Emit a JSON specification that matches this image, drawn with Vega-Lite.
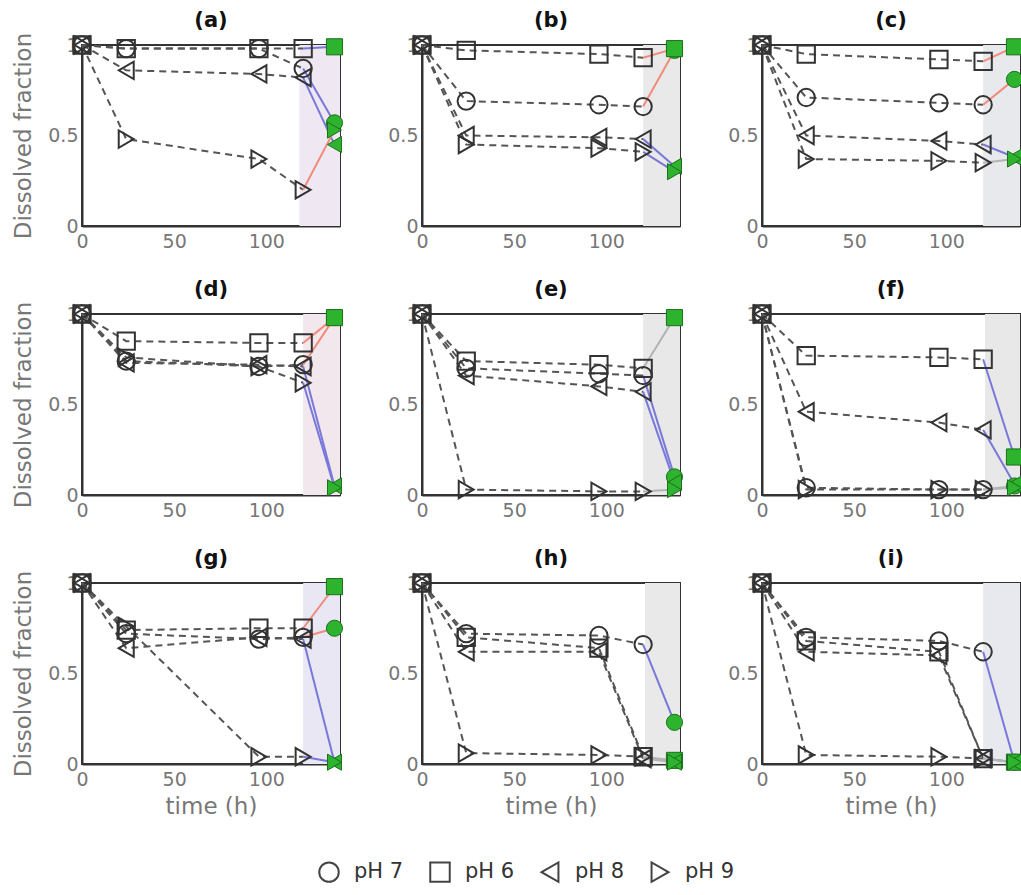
{
  "$schema": "https://vega.github.io/schema/vega-lite/v6.json",
  "background": "white",
  "padding": {"left": 11, "top": 9, "right": 0, "bottom": 0},
  "datasets": {
    "main": [
      {"p":"a","ph":"pH 7","t":0,"v":1},{"p":"a","ph":"pH 7","t":24,"v":0.98},{"p":"a","ph":"pH 7","t":96,"v":0.98},{"p":"a","ph":"pH 7","t":120,"v":0.87},
      {"p":"a","ph":"pH 6","t":0,"v":1},{"p":"a","ph":"pH 6","t":24,"v":0.98},{"p":"a","ph":"pH 6","t":96,"v":0.98},{"p":"a","ph":"pH 6","t":120,"v":0.98},
      {"p":"a","ph":"pH 8","t":0,"v":1},{"p":"a","ph":"pH 8","t":24,"v":0.86},{"p":"a","ph":"pH 8","t":96,"v":0.84},{"p":"a","ph":"pH 8","t":120,"v":0.82},
      {"p":"a","ph":"pH 9","t":0,"v":1},{"p":"a","ph":"pH 9","t":24,"v":0.48},{"p":"a","ph":"pH 9","t":96,"v":0.37},{"p":"a","ph":"pH 9","t":120,"v":0.2},

      {"p":"b","ph":"pH 7","t":0,"v":1},{"p":"b","ph":"pH 7","t":24,"v":0.69},{"p":"b","ph":"pH 7","t":96,"v":0.67},{"p":"b","ph":"pH 7","t":120,"v":0.66},
      {"p":"b","ph":"pH 6","t":0,"v":1},{"p":"b","ph":"pH 6","t":24,"v":0.97},{"p":"b","ph":"pH 6","t":96,"v":0.95},{"p":"b","ph":"pH 6","t":120,"v":0.93},
      {"p":"b","ph":"pH 8","t":0,"v":1},{"p":"b","ph":"pH 8","t":24,"v":0.5},{"p":"b","ph":"pH 8","t":96,"v":0.49},{"p":"b","ph":"pH 8","t":120,"v":0.48},
      {"p":"b","ph":"pH 9","t":0,"v":1},{"p":"b","ph":"pH 9","t":24,"v":0.45},{"p":"b","ph":"pH 9","t":96,"v":0.43},{"p":"b","ph":"pH 9","t":120,"v":0.41},

      {"p":"c","ph":"pH 7","t":0,"v":1},{"p":"c","ph":"pH 7","t":24,"v":0.71},{"p":"c","ph":"pH 7","t":96,"v":0.68},{"p":"c","ph":"pH 7","t":120,"v":0.67},
      {"p":"c","ph":"pH 6","t":0,"v":1},{"p":"c","ph":"pH 6","t":24,"v":0.95},{"p":"c","ph":"pH 6","t":96,"v":0.92},{"p":"c","ph":"pH 6","t":120,"v":0.91},
      {"p":"c","ph":"pH 8","t":0,"v":1},{"p":"c","ph":"pH 8","t":24,"v":0.5},{"p":"c","ph":"pH 8","t":96,"v":0.47},{"p":"c","ph":"pH 8","t":120,"v":0.45},
      {"p":"c","ph":"pH 9","t":0,"v":1},{"p":"c","ph":"pH 9","t":24,"v":0.37},{"p":"c","ph":"pH 9","t":96,"v":0.36},{"p":"c","ph":"pH 9","t":120,"v":0.35},

      {"p":"d","ph":"pH 7","t":0,"v":1},{"p":"d","ph":"pH 7","t":24,"v":0.74},{"p":"d","ph":"pH 7","t":96,"v":0.71},{"p":"d","ph":"pH 7","t":120,"v":0.72},
      {"p":"d","ph":"pH 6","t":0,"v":1},{"p":"d","ph":"pH 6","t":24,"v":0.85},{"p":"d","ph":"pH 6","t":96,"v":0.84},{"p":"d","ph":"pH 6","t":120,"v":0.84},
      {"p":"d","ph":"pH 8","t":0,"v":1},{"p":"d","ph":"pH 8","t":24,"v":0.73},{"p":"d","ph":"pH 8","t":96,"v":0.72},{"p":"d","ph":"pH 8","t":120,"v":0.71},
      {"p":"d","ph":"pH 9","t":0,"v":1},{"p":"d","ph":"pH 9","t":24,"v":0.76},{"p":"d","ph":"pH 9","t":96,"v":0.71},{"p":"d","ph":"pH 9","t":120,"v":0.62},

      {"p":"e","ph":"pH 7","t":0,"v":1},{"p":"e","ph":"pH 7","t":24,"v":0.7},{"p":"e","ph":"pH 7","t":96,"v":0.67},{"p":"e","ph":"pH 7","t":120,"v":0.66},
      {"p":"e","ph":"pH 6","t":0,"v":1},{"p":"e","ph":"pH 6","t":24,"v":0.74},{"p":"e","ph":"pH 6","t":96,"v":0.72},{"p":"e","ph":"pH 6","t":120,"v":0.7},
      {"p":"e","ph":"pH 8","t":0,"v":1},{"p":"e","ph":"pH 8","t":24,"v":0.66},{"p":"e","ph":"pH 8","t":96,"v":0.6},{"p":"e","ph":"pH 8","t":120,"v":0.57},
      {"p":"e","ph":"pH 9","t":0,"v":1},{"p":"e","ph":"pH 9","t":24,"v":0.03},{"p":"e","ph":"pH 9","t":96,"v":0.02},{"p":"e","ph":"pH 9","t":120,"v":0.02},

      {"p":"f","ph":"pH 7","t":0,"v":1},{"p":"f","ph":"pH 7","t":24,"v":0.04},{"p":"f","ph":"pH 7","t":96,"v":0.03},{"p":"f","ph":"pH 7","t":120,"v":0.03},
      {"p":"f","ph":"pH 6","t":0,"v":1},{"p":"f","ph":"pH 6","t":24,"v":0.77},{"p":"f","ph":"pH 6","t":96,"v":0.76},{"p":"f","ph":"pH 6","t":120,"v":0.75},
      {"p":"f","ph":"pH 8","t":0,"v":1},{"p":"f","ph":"pH 8","t":24,"v":0.46},{"p":"f","ph":"pH 8","t":96,"v":0.4},{"p":"f","ph":"pH 8","t":120,"v":0.36},
      {"p":"f","ph":"pH 9","t":0,"v":1},{"p":"f","ph":"pH 9","t":24,"v":0.03},{"p":"f","ph":"pH 9","t":96,"v":0.03},{"p":"f","ph":"pH 9","t":120,"v":0.03},

      {"p":"g","ph":"pH 7","t":0,"v":1},{"p":"g","ph":"pH 7","t":24,"v":0.72},{"p":"g","ph":"pH 7","t":96,"v":0.69},{"p":"g","ph":"pH 7","t":120,"v":0.7},
      {"p":"g","ph":"pH 6","t":0,"v":1},{"p":"g","ph":"pH 6","t":24,"v":0.74},{"p":"g","ph":"pH 6","t":96,"v":0.75},{"p":"g","ph":"pH 6","t":120,"v":0.75},
      {"p":"g","ph":"pH 8","t":0,"v":1},{"p":"g","ph":"pH 8","t":24,"v":0.64},{"p":"g","ph":"pH 8","t":96,"v":0.7},{"p":"g","ph":"pH 8","t":120,"v":0.69},
      {"p":"g","ph":"pH 9","t":0,"v":1},{"p":"g","ph":"pH 9","t":24,"v":0.76},{"p":"g","ph":"pH 9","t":96,"v":0.04},{"p":"g","ph":"pH 9","t":120,"v":0.04},

      {"p":"h","ph":"pH 7","t":0,"v":1},{"p":"h","ph":"pH 7","t":24,"v":0.72},{"p":"h","ph":"pH 7","t":96,"v":0.71},{"p":"h","ph":"pH 7","t":120,"v":0.66},
      {"p":"h","ph":"pH 6","t":0,"v":1},{"p":"h","ph":"pH 6","t":24,"v":0.7},{"p":"h","ph":"pH 6","t":96,"v":0.64},{"p":"h","ph":"pH 6","t":120,"v":0.04},
      {"p":"h","ph":"pH 8","t":0,"v":1},{"p":"h","ph":"pH 8","t":24,"v":0.62},{"p":"h","ph":"pH 8","t":96,"v":0.62},{"p":"h","ph":"pH 8","t":120,"v":0.03},
      {"p":"h","ph":"pH 9","t":0,"v":1},{"p":"h","ph":"pH 9","t":24,"v":0.06},{"p":"h","ph":"pH 9","t":96,"v":0.05},{"p":"h","ph":"pH 9","t":120,"v":0.04},

      {"p":"i","ph":"pH 7","t":0,"v":1},{"p":"i","ph":"pH 7","t":24,"v":0.7},{"p":"i","ph":"pH 7","t":96,"v":0.68},{"p":"i","ph":"pH 7","t":120,"v":0.62},
      {"p":"i","ph":"pH 6","t":0,"v":1},{"p":"i","ph":"pH 6","t":24,"v":0.68},{"p":"i","ph":"pH 6","t":96,"v":0.62},{"p":"i","ph":"pH 6","t":120,"v":0.03},
      {"p":"i","ph":"pH 8","t":0,"v":1},{"p":"i","ph":"pH 8","t":24,"v":0.62},{"p":"i","ph":"pH 8","t":96,"v":0.6},{"p":"i","ph":"pH 8","t":120,"v":0.03},
      {"p":"i","ph":"pH 9","t":0,"v":1},{"p":"i","ph":"pH 9","t":24,"v":0.05},{"p":"i","ph":"pH 9","t":96,"v":0.04},{"p":"i","ph":"pH 9","t":120,"v":0.03}
    ],
    "ends": [
      {"p":"a","ph":"pH 7","t":120,"v":0.87,"t1":137,"v1":0.57,"dir":"down"},
      {"p":"a","ph":"pH 6","t":120,"v":0.98,"t1":137,"v1":0.99,"dir":"down"},
      {"p":"a","ph":"pH 8","t":120,"v":0.82,"t1":137,"v1":0.45,"dir":"down"},
      {"p":"a","ph":"pH 9","t":120,"v":0.2,"t1":137,"v1":0.53,"dir":"up"},
      {"p":"b","ph":"pH 7","t":120,"v":0.66,"t1":137,"v1":0.97,"dir":"up"},
      {"p":"b","ph":"pH 6","t":120,"v":0.93,"t1":137,"v1":0.98,"dir":"up"},
      {"p":"b","ph":"pH 8","t":120,"v":0.48,"t1":137,"v1":0.33,"dir":"down"},
      {"p":"b","ph":"pH 9","t":120,"v":0.41,"t1":137,"v1":0.3,"dir":"down"},
      {"p":"c","ph":"pH 7","t":120,"v":0.67,"t1":137,"v1":0.81,"dir":"up"},
      {"p":"c","ph":"pH 6","t":120,"v":0.91,"t1":137,"v1":0.99,"dir":"up"},
      {"p":"c","ph":"pH 8","t":120,"v":0.45,"t1":137,"v1":0.38,"dir":"down"},
      {"p":"c","ph":"pH 9","t":120,"v":0.35,"t1":137,"v1":0.37,"dir":"flat"},
      {"p":"d","ph":"pH 7","t":120,"v":0.72,"t1":137,"v1":0.98,"dir":"up"},
      {"p":"d","ph":"pH 6","t":120,"v":0.84,"t1":137,"v1":0.98,"dir":"up"},
      {"p":"d","ph":"pH 8","t":120,"v":0.71,"t1":137,"v1":0.05,"dir":"down"},
      {"p":"d","ph":"pH 9","t":120,"v":0.62,"t1":137,"v1":0.04,"dir":"down"},
      {"p":"e","ph":"pH 7","t":120,"v":0.66,"t1":137,"v1":0.1,"dir":"down"},
      {"p":"e","ph":"pH 6","t":120,"v":0.7,"t1":137,"v1":0.98,"dir":"flat"},
      {"p":"e","ph":"pH 8","t":120,"v":0.57,"t1":137,"v1":0.07,"dir":"down"},
      {"p":"e","ph":"pH 9","t":120,"v":0.02,"t1":137,"v1":0.03,"dir":"flat"},
      {"p":"f","ph":"pH 7","t":120,"v":0.03,"t1":137,"v1":0.05,"dir":"flat"},
      {"p":"f","ph":"pH 6","t":120,"v":0.75,"t1":137,"v1":0.21,"dir":"down"},
      {"p":"f","ph":"pH 8","t":120,"v":0.36,"t1":137,"v1":0.06,"dir":"down"},
      {"p":"f","ph":"pH 9","t":120,"v":0.03,"t1":137,"v1":0.04,"dir":"flat"},
      {"p":"g","ph":"pH 7","t":120,"v":0.7,"t1":137,"v1":0.75,"dir":"up"},
      {"p":"g","ph":"pH 6","t":120,"v":0.75,"t1":137,"v1":0.98,"dir":"up"},
      {"p":"g","ph":"pH 8","t":120,"v":0.69,"t1":137,"v1":0.01,"dir":"down"},
      {"p":"g","ph":"pH 9","t":120,"v":0.04,"t1":137,"v1":0.01,"dir":"down"},
      {"p":"h","ph":"pH 7","t":120,"v":0.66,"t1":137,"v1":0.23,"dir":"down"},
      {"p":"h","ph":"pH 6","t":120,"v":0.04,"t1":137,"v1":0.02,"dir":"flat"},
      {"p":"h","ph":"pH 8","t":120,"v":0.03,"t1":137,"v1":0.01,"dir":"flat"},
      {"p":"h","ph":"pH 9","t":120,"v":0.04,"t1":137,"v1":0.01,"dir":"flat"},
      {"p":"i","ph":"pH 7","t":120,"v":0.62,"t1":137,"v1":0.01,"dir":"down"},
      {"p":"i","ph":"pH 6","t":120,"v":0.03,"t1":137,"v1":0.01,"dir":"down"},
      {"p":"i","ph":"pH 8","t":120,"v":0.03,"t1":137,"v1":0.01,"dir":"flat"},
      {"p":"i","ph":"pH 9","t":120,"v":0.03,"t1":137,"v1":0.01,"dir":"flat"}
    ],
    "shade": [
      {"p":"a","t":118,"t1":140,"v":0,"v1":1},{"p":"b","t":120,"t1":140,"v":0,"v1":1},{"p":"c","t":120,"t1":140,"v":0,"v1":1},
      {"p":"d","t":120,"t1":140,"v":0,"v1":1},{"p":"e","t":120,"t1":140,"v":0,"v1":1},{"p":"f","t":121,"t1":140,"v":0,"v1":1},
      {"p":"g","t":120,"t1":140,"v":0,"v1":1},{"p":"h","t":121,"t1":140,"v":0,"v1":1},{"p":"i","t":120,"t1":140,"v":0,"v1":1}
    ]
  },
  "columns": 3,
  "spacing": {"row": 88, "column": 82},
  "bounds": "flush",
  "concat": [
    {"title":"(a)","width":258,"height":181,
     "encoding":{"x":{"field":"t","type":"quantitative","scale":{"domain":[0,140],"nice":false},"axis":{"values":[0,50,100],"title":null}},
                 "y":{"field":"v","type":"quantitative","scale":{"domain":[0,1],"nice":false},"axis":{"values":[0,0.5,1],"format":"~g","title":"Dissolved fraction"}}},
     "layer":[
      {"data":{"name":"shade"},"transform":[{"filter":"datum.p==='a'"}],"mark":{"type":"rect","color":"#efe8f2"},"encoding":{"x2":{"field":"t1"},"y2":{"field":"v1"}}},
      {"data":{"name":"main"},"transform":[{"filter":"datum.p==='a'"}],"mark":{"type":"line","color":"#555","strokeWidth":2,"strokeDash":[7,5]},"encoding":{"detail":{"field":"ph"}}},
      {"data":{"name":"ends"},"transform":[{"filter":"datum.p==='a'"}],"mark":{"type":"rule","strokeWidth":2},"encoding":{"x2":{"field":"t1"},"y2":{"field":"v1"},"color":{"field":"dir","type":"nominal","scale":{"domain":["up","down","flat"],"range":["#ef8c7c","#7878da","#b4b4b4"]},"legend":null}}},
      {"data":{"name":"main"},"transform":[{"filter":"datum.p==='a'"}],"mark":{"type":"point","filled":false,"color":"#333","strokeWidth":2,"size":300,"opacity":1},"encoding":{"shape":{"field":"ph","type":"nominal","scale":{"domain":["pH 7","pH 6","pH 8","pH 9"],"range":["circle","square","triangle-left","triangle-right"]},"legend":{"title":null}}}},
      {"data":{"name":"ends"},"transform":[{"filter":"datum.p==='a'"}],"mark":{"type":"point","filled":true,"fill":"#2eb32e","stroke":"#1c701c","strokeWidth":1,"size":260,"opacity":1},"encoding":{"x":{"field":"t1","type":"quantitative","scale":{"domain":[0,140],"nice":false},"axis":{"values":[0,50,100],"title":null}},"y":{"field":"v1","type":"quantitative","scale":{"domain":[0,1],"nice":false},"axis":{"values":[0,0.5,1],"format":"~g","title":"Dissolved fraction"}},"shape":{"field":"ph","type":"nominal","legend":{"title":null}}}}
     ]},
    {"title":"(b)","width":258,"height":181,
     "encoding":{"x":{"field":"t","type":"quantitative","scale":{"domain":[0,140],"nice":false},"axis":{"values":[0,50,100],"title":null}},
                 "y":{"field":"v","type":"quantitative","scale":{"domain":[0,1],"nice":false},"axis":{"values":[0,0.5,1],"format":"~g","title":null}}},
     "layer":[
      {"data":{"name":"shade"},"transform":[{"filter":"datum.p==='b'"}],"mark":{"type":"rect","color":"#e9e9e9"},"encoding":{"x2":{"field":"t1"},"y2":{"field":"v1"}}},
      {"data":{"name":"main"},"transform":[{"filter":"datum.p==='b'"}],"mark":{"type":"line","color":"#555","strokeWidth":2,"strokeDash":[7,5]},"encoding":{"detail":{"field":"ph"}}},
      {"data":{"name":"ends"},"transform":[{"filter":"datum.p==='b'"}],"mark":{"type":"rule","strokeWidth":2},"encoding":{"x2":{"field":"t1"},"y2":{"field":"v1"},"color":{"field":"dir","type":"nominal","scale":{"domain":["up","down","flat"],"range":["#ef8c7c","#7878da","#b4b4b4"]},"legend":null}}},
      {"data":{"name":"main"},"transform":[{"filter":"datum.p==='b'"}],"mark":{"type":"point","filled":false,"color":"#333","strokeWidth":2,"size":300,"opacity":1},"encoding":{"shape":{"field":"ph","type":"nominal","scale":{"domain":["pH 7","pH 6","pH 8","pH 9"],"range":["circle","square","triangle-left","triangle-right"]},"legend":{"title":null}}}},
      {"data":{"name":"ends"},"transform":[{"filter":"datum.p==='b'"}],"mark":{"type":"point","filled":true,"fill":"#2eb32e","stroke":"#1c701c","strokeWidth":1,"size":260,"opacity":1},"encoding":{"x":{"field":"t1","type":"quantitative","scale":{"domain":[0,140],"nice":false},"axis":{"values":[0,50,100],"title":null}},"y":{"field":"v1","type":"quantitative","scale":{"domain":[0,1],"nice":false},"axis":{"values":[0,0.5,1],"format":"~g","title":null}},"shape":{"field":"ph","type":"nominal","legend":{"title":null}}}}
     ]},
    {"title":"(c)","width":258,"height":181,
     "encoding":{"x":{"field":"t","type":"quantitative","scale":{"domain":[0,140],"nice":false},"axis":{"values":[0,50,100],"title":null}},
                 "y":{"field":"v","type":"quantitative","scale":{"domain":[0,1],"nice":false},"axis":{"values":[0,0.5,1],"format":"~g","title":null}}},
     "layer":[
      {"data":{"name":"shade"},"transform":[{"filter":"datum.p==='c'"}],"mark":{"type":"rect","color":"#e8e9ed"},"encoding":{"x2":{"field":"t1"},"y2":{"field":"v1"}}},
      {"data":{"name":"main"},"transform":[{"filter":"datum.p==='c'"}],"mark":{"type":"line","color":"#555","strokeWidth":2,"strokeDash":[7,5]},"encoding":{"detail":{"field":"ph"}}},
      {"data":{"name":"ends"},"transform":[{"filter":"datum.p==='c'"}],"mark":{"type":"rule","strokeWidth":2},"encoding":{"x2":{"field":"t1"},"y2":{"field":"v1"},"color":{"field":"dir","type":"nominal","scale":{"domain":["up","down","flat"],"range":["#ef8c7c","#7878da","#b4b4b4"]},"legend":null}}},
      {"data":{"name":"main"},"transform":[{"filter":"datum.p==='c'"}],"mark":{"type":"point","filled":false,"color":"#333","strokeWidth":2,"size":300,"opacity":1},"encoding":{"shape":{"field":"ph","type":"nominal","scale":{"domain":["pH 7","pH 6","pH 8","pH 9"],"range":["circle","square","triangle-left","triangle-right"]},"legend":{"title":null}}}},
      {"data":{"name":"ends"},"transform":[{"filter":"datum.p==='c'"}],"mark":{"type":"point","filled":true,"fill":"#2eb32e","stroke":"#1c701c","strokeWidth":1,"size":260,"opacity":1},"encoding":{"x":{"field":"t1","type":"quantitative","scale":{"domain":[0,140],"nice":false},"axis":{"values":[0,50,100],"title":null}},"y":{"field":"v1","type":"quantitative","scale":{"domain":[0,1],"nice":false},"axis":{"values":[0,0.5,1],"format":"~g","title":null}},"shape":{"field":"ph","type":"nominal","legend":{"title":null}}}}
     ]},
    {"title":"(d)","width":258,"height":181,
     "encoding":{"x":{"field":"t","type":"quantitative","scale":{"domain":[0,140],"nice":false},"axis":{"values":[0,50,100],"title":null}},
                 "y":{"field":"v","type":"quantitative","scale":{"domain":[0,1],"nice":false},"axis":{"values":[0,0.5,1],"format":"~g","title":"Dissolved fraction"}}},
     "layer":[
      {"data":{"name":"shade"},"transform":[{"filter":"datum.p==='d'"}],"mark":{"type":"rect","color":"#f1e7ec"},"encoding":{"x2":{"field":"t1"},"y2":{"field":"v1"}}},
      {"data":{"name":"main"},"transform":[{"filter":"datum.p==='d'"}],"mark":{"type":"line","color":"#555","strokeWidth":2,"strokeDash":[7,5]},"encoding":{"detail":{"field":"ph"}}},
      {"data":{"name":"ends"},"transform":[{"filter":"datum.p==='d'"}],"mark":{"type":"rule","strokeWidth":2},"encoding":{"x2":{"field":"t1"},"y2":{"field":"v1"},"color":{"field":"dir","type":"nominal","scale":{"domain":["up","down","flat"],"range":["#ef8c7c","#7878da","#b4b4b4"]},"legend":null}}},
      {"data":{"name":"main"},"transform":[{"filter":"datum.p==='d'"}],"mark":{"type":"point","filled":false,"color":"#333","strokeWidth":2,"size":300,"opacity":1},"encoding":{"shape":{"field":"ph","type":"nominal","scale":{"domain":["pH 7","pH 6","pH 8","pH 9"],"range":["circle","square","triangle-left","triangle-right"]},"legend":{"title":null}}}},
      {"data":{"name":"ends"},"transform":[{"filter":"datum.p==='d'"}],"mark":{"type":"point","filled":true,"fill":"#2eb32e","stroke":"#1c701c","strokeWidth":1,"size":260,"opacity":1},"encoding":{"x":{"field":"t1","type":"quantitative","scale":{"domain":[0,140],"nice":false},"axis":{"values":[0,50,100],"title":null}},"y":{"field":"v1","type":"quantitative","scale":{"domain":[0,1],"nice":false},"axis":{"values":[0,0.5,1],"format":"~g","title":"Dissolved fraction"}},"shape":{"field":"ph","type":"nominal","legend":{"title":null}}}}
     ]},
    {"title":"(e)","width":258,"height":181,
     "encoding":{"x":{"field":"t","type":"quantitative","scale":{"domain":[0,140],"nice":false},"axis":{"values":[0,50,100],"title":null}},
                 "y":{"field":"v","type":"quantitative","scale":{"domain":[0,1],"nice":false},"axis":{"values":[0,0.5,1],"format":"~g","title":null}}},
     "layer":[
      {"data":{"name":"shade"},"transform":[{"filter":"datum.p==='e'"}],"mark":{"type":"rect","color":"#e8e8e8"},"encoding":{"x2":{"field":"t1"},"y2":{"field":"v1"}}},
      {"data":{"name":"main"},"transform":[{"filter":"datum.p==='e'"}],"mark":{"type":"line","color":"#555","strokeWidth":2,"strokeDash":[7,5]},"encoding":{"detail":{"field":"ph"}}},
      {"data":{"name":"ends"},"transform":[{"filter":"datum.p==='e'"}],"mark":{"type":"rule","strokeWidth":2},"encoding":{"x2":{"field":"t1"},"y2":{"field":"v1"},"color":{"field":"dir","type":"nominal","scale":{"domain":["up","down","flat"],"range":["#ef8c7c","#7878da","#b4b4b4"]},"legend":null}}},
      {"data":{"name":"main"},"transform":[{"filter":"datum.p==='e'"}],"mark":{"type":"point","filled":false,"color":"#333","strokeWidth":2,"size":300,"opacity":1},"encoding":{"shape":{"field":"ph","type":"nominal","scale":{"domain":["pH 7","pH 6","pH 8","pH 9"],"range":["circle","square","triangle-left","triangle-right"]},"legend":{"title":null}}}},
      {"data":{"name":"ends"},"transform":[{"filter":"datum.p==='e'"}],"mark":{"type":"point","filled":true,"fill":"#2eb32e","stroke":"#1c701c","strokeWidth":1,"size":260,"opacity":1},"encoding":{"x":{"field":"t1","type":"quantitative","scale":{"domain":[0,140],"nice":false},"axis":{"values":[0,50,100],"title":null}},"y":{"field":"v1","type":"quantitative","scale":{"domain":[0,1],"nice":false},"axis":{"values":[0,0.5,1],"format":"~g","title":null}},"shape":{"field":"ph","type":"nominal","legend":{"title":null}}}}
     ]},
    {"title":"(f)","width":258,"height":181,
     "encoding":{"x":{"field":"t","type":"quantitative","scale":{"domain":[0,140],"nice":false},"axis":{"values":[0,50,100],"title":null}},
                 "y":{"field":"v","type":"quantitative","scale":{"domain":[0,1],"nice":false},"axis":{"values":[0,0.5,1],"format":"~g","title":null}}},
     "layer":[
      {"data":{"name":"shade"},"transform":[{"filter":"datum.p==='f'"}],"mark":{"type":"rect","color":"#e8e8e8"},"encoding":{"x2":{"field":"t1"},"y2":{"field":"v1"}}},
      {"data":{"name":"main"},"transform":[{"filter":"datum.p==='f'"}],"mark":{"type":"line","color":"#555","strokeWidth":2,"strokeDash":[7,5]},"encoding":{"detail":{"field":"ph"}}},
      {"data":{"name":"ends"},"transform":[{"filter":"datum.p==='f'"}],"mark":{"type":"rule","strokeWidth":2},"encoding":{"x2":{"field":"t1"},"y2":{"field":"v1"},"color":{"field":"dir","type":"nominal","scale":{"domain":["up","down","flat"],"range":["#ef8c7c","#7878da","#b4b4b4"]},"legend":null}}},
      {"data":{"name":"main"},"transform":[{"filter":"datum.p==='f'"}],"mark":{"type":"point","filled":false,"color":"#333","strokeWidth":2,"size":300,"opacity":1},"encoding":{"shape":{"field":"ph","type":"nominal","scale":{"domain":["pH 7","pH 6","pH 8","pH 9"],"range":["circle","square","triangle-left","triangle-right"]},"legend":{"title":null}}}},
      {"data":{"name":"ends"},"transform":[{"filter":"datum.p==='f'"}],"mark":{"type":"point","filled":true,"fill":"#2eb32e","stroke":"#1c701c","strokeWidth":1,"size":260,"opacity":1},"encoding":{"x":{"field":"t1","type":"quantitative","scale":{"domain":[0,140],"nice":false},"axis":{"values":[0,50,100],"title":null}},"y":{"field":"v1","type":"quantitative","scale":{"domain":[0,1],"nice":false},"axis":{"values":[0,0.5,1],"format":"~g","title":null}},"shape":{"field":"ph","type":"nominal","legend":{"title":null}}}}
     ]},
    {"title":"(g)","width":258,"height":181,
     "encoding":{"x":{"field":"t","type":"quantitative","scale":{"domain":[0,140],"nice":false},"axis":{"values":[0,50,100],"title":"time (h)"}},
                 "y":{"field":"v","type":"quantitative","scale":{"domain":[0,1],"nice":false},"axis":{"values":[0,0.5,1],"format":"~g","title":"Dissolved fraction"}}},
     "layer":[
      {"data":{"name":"shade"},"transform":[{"filter":"datum.p==='g'"}],"mark":{"type":"rect","color":"#e8e7f3"},"encoding":{"x2":{"field":"t1"},"y2":{"field":"v1"}}},
      {"data":{"name":"main"},"transform":[{"filter":"datum.p==='g'"}],"mark":{"type":"line","color":"#555","strokeWidth":2,"strokeDash":[7,5]},"encoding":{"detail":{"field":"ph"}}},
      {"data":{"name":"ends"},"transform":[{"filter":"datum.p==='g'"}],"mark":{"type":"rule","strokeWidth":2},"encoding":{"x2":{"field":"t1"},"y2":{"field":"v1"},"color":{"field":"dir","type":"nominal","scale":{"domain":["up","down","flat"],"range":["#ef8c7c","#7878da","#b4b4b4"]},"legend":null}}},
      {"data":{"name":"main"},"transform":[{"filter":"datum.p==='g'"}],"mark":{"type":"point","filled":false,"color":"#333","strokeWidth":2,"size":300,"opacity":1},"encoding":{"shape":{"field":"ph","type":"nominal","scale":{"domain":["pH 7","pH 6","pH 8","pH 9"],"range":["circle","square","triangle-left","triangle-right"]},"legend":{"title":null}}}},
      {"data":{"name":"ends"},"transform":[{"filter":"datum.p==='g'"}],"mark":{"type":"point","filled":true,"fill":"#2eb32e","stroke":"#1c701c","strokeWidth":1,"size":260,"opacity":1},"encoding":{"x":{"field":"t1","type":"quantitative","scale":{"domain":[0,140],"nice":false},"axis":{"values":[0,50,100],"title":"time (h)"}},"y":{"field":"v1","type":"quantitative","scale":{"domain":[0,1],"nice":false},"axis":{"values":[0,0.5,1],"format":"~g","title":"Dissolved fraction"}},"shape":{"field":"ph","type":"nominal","legend":{"title":null}}}}
     ]},
    {"title":"(h)","width":258,"height":181,
     "encoding":{"x":{"field":"t","type":"quantitative","scale":{"domain":[0,140],"nice":false},"axis":{"values":[0,50,100],"title":"time (h)"}},
                 "y":{"field":"v","type":"quantitative","scale":{"domain":[0,1],"nice":false},"axis":{"values":[0,0.5,1],"format":"~g","title":null}}},
     "layer":[
      {"data":{"name":"shade"},"transform":[{"filter":"datum.p==='h'"}],"mark":{"type":"rect","color":"#e9e9e9"},"encoding":{"x2":{"field":"t1"},"y2":{"field":"v1"}}},
      {"data":{"name":"main"},"transform":[{"filter":"datum.p==='h'"}],"mark":{"type":"line","color":"#555","strokeWidth":2,"strokeDash":[7,5]},"encoding":{"detail":{"field":"ph"}}},
      {"data":{"name":"ends"},"transform":[{"filter":"datum.p==='h'"}],"mark":{"type":"rule","strokeWidth":2},"encoding":{"x2":{"field":"t1"},"y2":{"field":"v1"},"color":{"field":"dir","type":"nominal","scale":{"domain":["up","down","flat"],"range":["#ef8c7c","#7878da","#b4b4b4"]},"legend":null}}},
      {"data":{"name":"main"},"transform":[{"filter":"datum.p==='h'"}],"mark":{"type":"point","filled":false,"color":"#333","strokeWidth":2,"size":300,"opacity":1},"encoding":{"shape":{"field":"ph","type":"nominal","scale":{"domain":["pH 7","pH 6","pH 8","pH 9"],"range":["circle","square","triangle-left","triangle-right"]},"legend":{"title":null}}}},
      {"data":{"name":"ends"},"transform":[{"filter":"datum.p==='h'"}],"mark":{"type":"point","filled":true,"fill":"#2eb32e","stroke":"#1c701c","strokeWidth":1,"size":260,"opacity":1},"encoding":{"x":{"field":"t1","type":"quantitative","scale":{"domain":[0,140],"nice":false},"axis":{"values":[0,50,100],"title":"time (h)"}},"y":{"field":"v1","type":"quantitative","scale":{"domain":[0,1],"nice":false},"axis":{"values":[0,0.5,1],"format":"~g","title":null}},"shape":{"field":"ph","type":"nominal","legend":{"title":null}}}}
     ]},
    {"title":"(i)","width":258,"height":181,
     "encoding":{"x":{"field":"t","type":"quantitative","scale":{"domain":[0,140],"nice":false},"axis":{"values":[0,50,100],"title":"time (h)"}},
                 "y":{"field":"v","type":"quantitative","scale":{"domain":[0,1],"nice":false},"axis":{"values":[0,0.5,1],"format":"~g","title":null}}},
     "layer":[
      {"data":{"name":"shade"},"transform":[{"filter":"datum.p==='i'"}],"mark":{"type":"rect","color":"#e8e8ef"},"encoding":{"x2":{"field":"t1"},"y2":{"field":"v1"}}},
      {"data":{"name":"main"},"transform":[{"filter":"datum.p==='i'"}],"mark":{"type":"line","color":"#555","strokeWidth":2,"strokeDash":[7,5]},"encoding":{"detail":{"field":"ph"}}},
      {"data":{"name":"ends"},"transform":[{"filter":"datum.p==='i'"}],"mark":{"type":"rule","strokeWidth":2},"encoding":{"x2":{"field":"t1"},"y2":{"field":"v1"},"color":{"field":"dir","type":"nominal","scale":{"domain":["up","down","flat"],"range":["#ef8c7c","#7878da","#b4b4b4"]},"legend":null}}},
      {"data":{"name":"main"},"transform":[{"filter":"datum.p==='i'"}],"mark":{"type":"point","filled":false,"color":"#333","strokeWidth":2,"size":300,"opacity":1},"encoding":{"shape":{"field":"ph","type":"nominal","scale":{"domain":["pH 7","pH 6","pH 8","pH 9"],"range":["circle","square","triangle-left","triangle-right"]},"legend":{"title":null}}}},
      {"data":{"name":"ends"},"transform":[{"filter":"datum.p==='i'"}],"mark":{"type":"point","filled":true,"fill":"#2eb32e","stroke":"#1c701c","strokeWidth":1,"size":260,"opacity":1},"encoding":{"x":{"field":"t1","type":"quantitative","scale":{"domain":[0,140],"nice":false},"axis":{"values":[0,50,100],"title":"time (h)"}},"y":{"field":"v1","type":"quantitative","scale":{"domain":[0,1],"nice":false},"axis":{"values":[0,0.5,1],"format":"~g","title":null}},"shape":{"field":"ph","type":"nominal","legend":{"title":null}}}}
     ]}
  ],
  "config": {
    "font": "DejaVu Sans",
    "view": {"stroke": "#333", "strokeWidth": 2},
    "axis": {"grid": false, "ticks": false, "domainColor": "#333", "domainWidth": 2, "labelColor": "#777", "labelFontSize": 19, "labelFont": "DejaVu Sans", "labelFlush": false, "labelOverlap": false, "titleColor": "#777", "titleFontSize": 23, "titleFontWeight": "normal", "titleFont": "DejaVu Sans"},
    "axisX": {"labelPadding": 6, "titlePadding": 6},
    "axisY": {"labelPadding": 4, "titlePadding": 12},
    "title": {"fontSize": 21, "fontWeight": "bold", "color": "#111", "offset": 0, "dy": 3, "font": "DejaVu Sans"},
    "legend": {"orient": "none", "legendX": 236, "legendY": 816, "direction": "horizontal", "labelFontSize": 21, "labelColor": "#333", "labelFont": "DejaVu Sans", "symbolSize": 380, "symbolStrokeWidth": 2, "symbolStrokeColor": "#444", "symbolFillColor": "transparent", "labelOffset": 14, "columnPadding": 22}
  }
}
